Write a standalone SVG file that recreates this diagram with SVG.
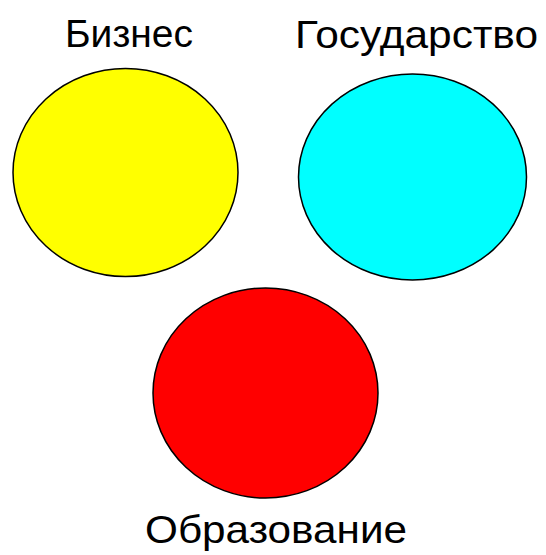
<svg xmlns="http://www.w3.org/2000/svg" width="546" height="555" viewBox="0 0 546 555">
<style>
.c{stroke:#000;stroke-width:1.5}
.t{font-family:"Liberation Sans",Arial,sans-serif;font-size:39px;fill:#000}
</style>
<rect width="546" height="555" fill="#fff"/>
<g id="biznes">
<ellipse class="c" cx="125.5" cy="172.5" rx="112.5" ry="104" fill="#ffff00"/>
<text class="t" x="65" y="47" textLength="128" lengthAdjust="spacingAndGlyphs">Бизнес</text>
</g>
<g id="gosudarstvo">
<ellipse class="c" cx="412.5" cy="177" rx="114" ry="103" fill="#00ffff"/>
<text class="t" x="295" y="48" textLength="243" lengthAdjust="spacingAndGlyphs">Государство</text>
</g>
<g id="obrazovanie">
<ellipse class="c" cx="265.5" cy="393" rx="112.5" ry="105" fill="#ff0000"/>
<text class="t" x="145" y="543" textLength="262" lengthAdjust="spacingAndGlyphs">Образование</text>
</g>
<g id="connectors"/>
</svg>
